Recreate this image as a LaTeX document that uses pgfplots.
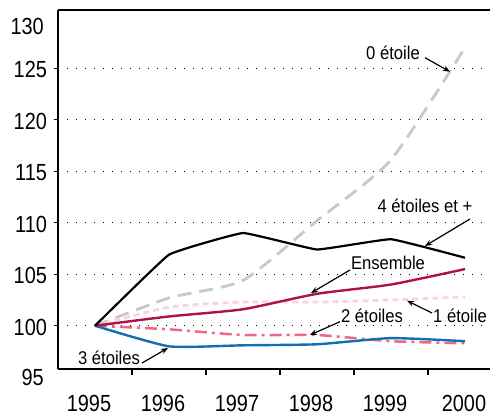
\documentclass[border=0pt]{standalone}
\usepackage{fontspec}
\setmainfont{Liberation Sans}
\usepackage{pgfplots}
\pgfplotsset{compat=1.18}
\usetikzlibrary{arrows.meta}
\definecolor{crim}{RGB}{176,18,72}
\definecolor{bleu}{RGB}{20,110,180}
\definecolor{saumon}{RGB}{238,105,128}
\definecolor{rosepale}{RGB}{250,212,220}
\definecolor{gris}{RGB}{200,200,200}
\newcommand\tl[1]{\scalebox{1}[1.17]{#1}}
\newcommand\al[1]{\scalebox{1}[1.11]{#1}}
\begin{document}
\begin{tikzpicture}
\useasboundingbox (0,0) rectangle (490bp,416bp);
\begin{axis}[
  at={(58bp,47bp)}, anchor=south west,
  scale only axis, width=432bp, height=359bp,
  xmin=-0.5, xmax=5.338, ymin=95.8, ymax=130.65,
  axis x line*=box, axis y line*=left,
  axis line style={line width=1.2bp, black},
  xtick={0,1,2,3,4,5},
  xticklabels={\tl{1995},\tl{1996},\tl{1997},\tl{1998},\tl{1999},\hspace*{10bp}\tl{2000}},
  minor xtick={0.5,1.5,2.5,3.5,4.5},
  xtick pos=left, ytick pos=left,
  ytick={100,105,110,115,120,125},
  yticklabel={\tl{\pgfmathprintnumber{\tick}}},
  tick align=outside,
  major tick length=3.5bp, minor tick length=6bp,
  major x tick style={draw=none},
  minor x tick style={line width=1.2bp, black},
  major y tick style={line width=1.2bp, black},
  ymajorgrids,
  major grid style={black, line width=1.3bp, dash pattern=on 1.3bp off 7.7bp},
  /pgf/number format/assume math mode=true,
  tick label style={font=\fontsize{20}{20}\selectfont},
  x tick label style={yshift=-19bp, xshift=-6bp},
  y tick label style={xshift=-4bp, yshift=-1.5bp},
  clip=false,
]
\addplot[gris, line width=2.8bp, dash pattern=on 14bp off 8bp, smooth, tension=0.35]
  coordinates {(0,100) (1,102.7) (2,104.4) (3,110.2) (4,116.1) (5,127.0)};
\addplot[rosepale, line width=2.8bp, dash pattern=on 6bp off 4bp, smooth, tension=0.35]
  coordinates {(0,100) (1,101.8) (2,102.3) (3,102.3) (4,102.5) (5,102.8)};
\addplot[saumon, line width=2.5bp, dash pattern=on 12bp off 5bp on 3bp off 5bp, smooth, tension=0.35]
  coordinates {(0,100) (1,99.65) (2,99.1) (3,99.1) (4,98.5) (5,98.3)};
\addplot[bleu, line width=2.4bp, smooth, tension=0.3]
  coordinates {(0,100) (1,98.0) (2,98.1) (3,98.2) (4,98.8) (5,98.5)};
\addplot[crim, line width=2.4bp, smooth, tension=0.35]
  coordinates {(0,100) (1,100.9) (2,101.6) (3,103.1) (4,104.0) (5,105.5)};
\addplot[black, line width=2.2bp, smooth, tension=0.15]
  coordinates {(0,100) (1,106.9) (2,109.0) (3,107.4) (4,108.4) (5,106.6)};
\end{axis}
\begin{scope}[font=\fontsize{20}{20}\selectfont]
\node[anchor=east, inner sep=0pt] at (44bp,39bp) {\tl{95}};
\node[anchor=east, inner sep=0pt] at (44bp,390bp) {\tl{130}};
\end{scope}
\begin{scope}[font=\fontsize{16.7}{18}\selectfont, inner sep=0pt]
\node at (393bp,363bp) {\al{0 étoile}};
\node at (425bp,210bp) {\al{4 étoiles et +}};
\node at (388bp,153bp) {\al{Ensemble}};
\node at (372bp,100bp) {\al{2 étoiles}};
\node at (460bp,100bp) {\al{1 étoile}};
\node at (109bp,58bp) {\al{3 étoiles}};
\end{scope}
\begin{scope}[line width=1.2bp, -{Stealth[length=7bp,width=5.5bp]}]
\draw (425bp,358.3bp) -- (450bp,344.3bp);
\draw (470bp,197bp) -- (425bp,170bp);
\draw (350bp,146bp) -- (311bp,123bp);
\draw (340bp,94.3bp) -- (310bp,81bp);
\draw (432bp,103bp) -- (407bp,115.3bp);
\draw (142bp,53bp) -- (168bp,68bp);
\end{scope}
\end{tikzpicture}
\end{document}
